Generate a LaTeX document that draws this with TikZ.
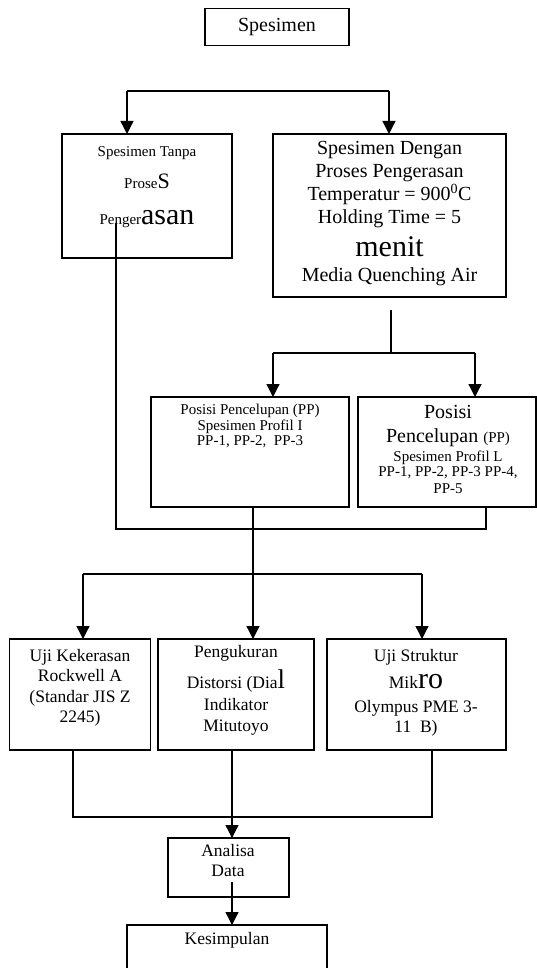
\documentclass[tikz,border=0pt]{standalone}
\usepackage{fontspec}
\setmainfont{Liberation Serif}
\usetikzlibrary{arrows.meta}
\newcommand\sz[1]{\fontsize{#1}{#1}\selectfont}
\begin{document}
\begin{tikzpicture}[x=1pt,y=-1pt,
  box/.style={draw,line width=1.3pt,inner sep=0pt,outer sep=0pt},
  txt/.style={anchor=base,inner sep=0pt,outer sep=0pt},
  ln/.style={line width=1.3pt},
  arr/.style={line width=1.3pt,-{Triangle[width=13pt,length=13pt]}}]
\clip (0,0) rectangle (537,968);
% boxes
\node[box,minimum width=144pt,minimum height=37pt] (spes) at (277,27.3) {};
\node[box,minimum width=170pt,minimum height=124pt] (tanpa) at (147,196) {};
\node[box,minimum width=233pt,minimum height=163pt] (dengan) at (389.5,215.5) {};
\node[box,minimum width=198pt,minimum height=110pt] (ppi) at (250,452) {};
\node[box,minimum width=178pt,minimum height=110pt] (ppl) at (447,452) {};
\node[box,minimum width=141pt,minimum height=111pt] (uji1) at (80,694.5) {};
\node[box,minimum width=156pt,minimum height=111pt] (uji2) at (236,694.5) {};
\node[box,minimum width=179pt,minimum height=111pt] (uji3) at (416.5,694.5) {};
\node[box,minimum width=121pt,minimum height=59pt] (analisa) at (228.5,867.5) {};
\node[box,minimum width=200pt,minimum height=70pt] (kes) at (227,960) {};
% texts
\node[txt,font=\sz{20}] (tspes) at (277,31.5) {Spesimen};
\node[txt,font=\sz{15}] (ta1) at (147,157) {Spesimen Tanpa};
\node[txt,font=\sz{15}] (ta2) at (147,189) {Prose{\sz{22}S}};
\node[txt,font=\sz{15}] (ta3) at (147,225) {Penger{\sz{30}asan}};
\node[txt,font=\sz{20}] (td1) at (389.5,155) {Spesimen Dengan};
\node[txt,font=\sz{20}] (td2) at (389.5,177.5) {Proses Pengerasan};
\node[txt,font=\sz{20}] (td3) at (389.5,201) {Temperatur = 900\textsuperscript{0}C};
\node[txt,font=\sz{20}] (td4) at (389.5,224) {Holding Time = 5};
\node[txt,font=\sz{30}] (td5) at (389.5,256.5) {menit};
\node[txt,font=\sz{20}] (td6) at (389.5,281.5) {Media Quenching Air};
\node[txt,font=\sz{15}] (tp1) at (250,414.5) {Posisi Pencelupan (PP)};
\node[txt,font=\sz{15}] (tp2) at (250,430) {Spesimen Profil I};
\node[txt,font=\sz{15}] (tp3) at (250,445.5) {PP-1, PP-2,\ \ PP-3};
\node[txt,font=\sz{20}] (tl1) at (448,418.3) {Posisi};
\node[txt,font=\sz{20}] (tl2) at (448,442.7) {Pencelupan {\sz{15}(PP)}};
\node[txt,font=\sz{15}] (tl3) at (448,461) {Spesimen Profil L};
\node[txt,font=\sz{15}] (tl4) at (448,476.7) {PP-1, PP-2, PP-3 PP-4,};
\node[txt,font=\sz{15}] (tl5) at (448,493) {PP-5};
\node[txt,font=\sz{17.5}] (tu1a) at (80,661) {Uji Kekerasan};
\node[txt,font=\sz{17.5}] (tu1b) at (80,681.6) {Rockwell A};
\node[txt,font=\sz{17.5}] (tu1c) at (80,702) {(Standar JIS Z};
\node[txt,font=\sz{17.5}] (tu1d) at (80,722.7) {2245)};
\node[txt,font=\sz{17.5}] (tu2a) at (236,657.3) {Pengukuran};
\node[txt,font=\sz{17.5}] (tu2b) at (236,688.3) {Distorsi (Dia{\sz{27}l}};
\node[txt,font=\sz{17.5}] (tu2c) at (236,710.7) {Indikator};
\node[txt,font=\sz{17.5}] (tu2d) at (236,731.7) {Mitutoyo};
\node[txt,font=\sz{17.5}] (tu3a) at (416,661) {Uji Struktur};
\node[txt,font=\sz{17.5}] (tu3b) at (416,688) {Mik{\sz{30}ro}};
\node[txt,font=\sz{17.5}] (tu3c) at (416,712) {Olympus PME 3-};
\node[txt,font=\sz{17.5}] (tu3d) at (416,732) {11\ \ B)};
\node[txt,font=\sz{17.5}] (tan1) at (228,856) {Analisa};
\node[txt,font=\sz{17.5}] (tan2) at (228,876) {Data};
\node[txt,font=\sz{17.5}] (tkes) at (227,944) {Kesimpulan};
% connectors
\coordinate (h1l) at (127,91);
\coordinate (h1r) at (389,91);
\draw[ln] (h1l) -- (h1r);
\draw[arr] (h1l) -- (h1l |- tanpa.north);
\draw[arr] (h1r) -- (h1r |- dengan.north);
\coordinate (d1) at (391,310);
\coordinate (h2l) at (273,353);
\coordinate (h2r) at (475,353);
\draw[ln] (d1) -- (d1 |- h2l);
\draw[ln] (h2l) -- (h2r);
\draw[arr] (h2l) -- (h2l |- ppi.north);
\draw[arr] (h2r) -- (h2r |- ppl.north);
\coordinate (t0) at (116,223);
\coordinate (m1l) at (116,529);
\coordinate (m1r) at (486,529);
\draw[ln] (t0) -- (m1l) -- (m1r) -- (m1r |- ppl.south);
\coordinate (v1) at (253,574);
\coordinate (h3l) at (83,574);
\coordinate (h3r) at (422,574);
\draw[arr] (v1 |- ppi.south) -- (v1 |- uji2.north);
\draw[ln] (h3l) -- (h3r);
\draw[arr] (h3l) -- (h3l |- uji1.north);
\draw[arr] (h3r) -- (h3r |- uji3.north);
\coordinate (b1) at (73,817);
\coordinate (b2) at (232,817);
\coordinate (b3) at (432,817);
\draw[ln] (b1 |- uji1.south) -- (b1) -- (b3) -- (b3 |- uji3.south);
\draw[arr] (b2 |- uji2.south) -- (b2 |- analisa.north);
\coordinate (a0) at (232,882);
\draw[arr] (a0) -- (a0 |- kes.north);
\end{tikzpicture}
\end{document}
